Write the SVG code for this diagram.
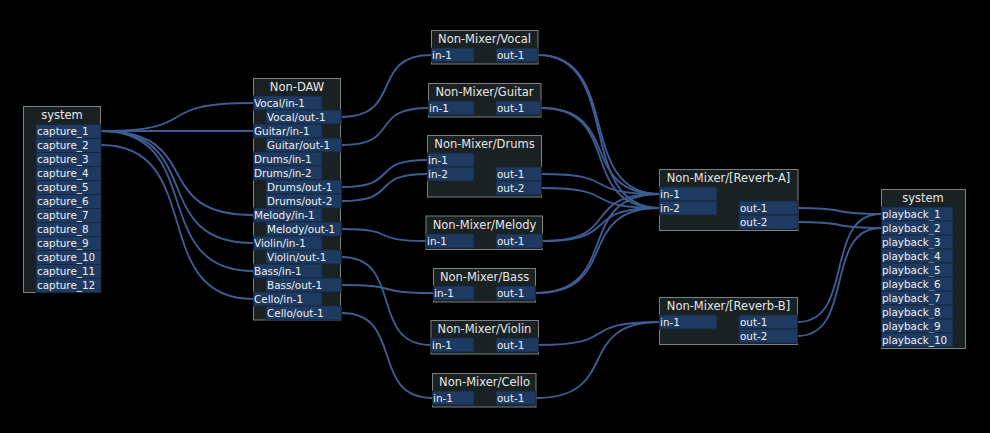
<svg xmlns="http://www.w3.org/2000/svg" width="990" height="433" viewBox="0 0 990 433">
<style>
.box{fill:#1a2123;stroke:#7d8080;stroke-width:1}
.port{fill:#1f3a60;stroke:#15263d;stroke-width:1}
.title{font-family:"DejaVu Sans",sans-serif;font-size:11.5px;fill:#e6e6e6;text-anchor:middle}
.lbl{font-family:"DejaVu Sans",sans-serif;font-size:10.4px;fill:#eef0f2}
.wire{fill:none;stroke:#3d5d92;stroke-width:1.9}
</style>
<rect width="990" height="433" fill="#000"/>
<g id="connectors" class="wires">
<path class="wire" d="M101,131 C207,131 147,103 253,103"/>
<path class="wire" d="M101,131 L253,131"/>
<path class="wire" d="M101,131 C207,131 147,215 253,215"/>
<path class="wire" d="M101,131 C207,131 147,243 253,243"/>
<path class="wire" d="M101,131 C207,131 147,271 253,271"/>
<path class="wire" d="M101,145 C207,145 147,299 253,299"/>
<path class="wire" d="M341.5,117 C404.5,117 368.5,55 431.5,55"/>
<path class="wire" d="M341.5,145 C402.5,145 367.5,108 428.5,108"/>
<path class="wire" d="M341.5,187 C401.5,187 367.5,160 427.5,160"/>
<path class="wire" d="M341.5,201 C401.5,201 367.5,174 427.5,174"/>
<path class="wire" d="M341.5,229 C400.5,229 367,241 426,241"/>
<path class="wire" d="M341.5,257 C404.5,257 368,345 431,345"/>
<path class="wire" d="M341.5,285 C405.5,285 369.5,293 433.5,293"/>
<path class="wire" d="M341.5,313 C405.5,313 368.5,398 432.5,398"/>
<path class="wire" d="M538,55 C623,55 574.5,194 659.5,194"/>
<path class="wire" d="M538,55 C623,55 574.5,208 659.5,208"/>
<path class="wire" d="M541,108 C624,108 576.5,194 659.5,194"/>
<path class="wire" d="M541,108 C624,108 576.5,208 659.5,208"/>
<path class="wire" d="M541.5,174 C624.5,174 576.5,194 659.5,194"/>
<path class="wire" d="M541.5,188 C624.5,188 576.5,208 659.5,208"/>
<path class="wire" d="M542.5,241 C624.5,241 577.5,194 659.5,194"/>
<path class="wire" d="M542.5,241 C624.5,241 577.5,208 659.5,208"/>
<path class="wire" d="M535.5,293 C622.5,293 572.5,194 659.5,194"/>
<path class="wire" d="M535.5,293 C622.5,293 572.5,208 659.5,208"/>
<path class="wire" d="M538.5,345 C623.5,345 574.5,322 659.5,322"/>
<path class="wire" d="M536,398 C622,398 573.5,322 659.5,322"/>
<path class="wire" d="M798,208 C856,208 823,214 881,214"/>
<path class="wire" d="M798,222 C856,222 823,228 881,228"/>
<path class="wire" d="M797.5,322 C855.5,322 823,214 881,214"/>
<path class="wire" d="M797.5,336 C855.5,336 823,228 881,228"/>
</g>
<g id="system-capture">
<rect class="box" x="23.5" y="106.5" width="77" height="186"/>
<text class="title" x="62" y="119">system</text>
<rect class="port" x="36" y="124.5" width="65" height="14"/><text class="lbl" x="37" y="135">capture_1</text>
<rect class="port" x="36" y="138.5" width="65" height="14"/><text class="lbl" x="37" y="149">capture_2</text>
<rect class="port" x="36" y="152.5" width="65" height="14"/><text class="lbl" x="37" y="163">capture_3</text>
<rect class="port" x="36" y="166.5" width="65" height="14"/><text class="lbl" x="37" y="177">capture_4</text>
<rect class="port" x="36" y="180.5" width="65" height="14"/><text class="lbl" x="37" y="191">capture_5</text>
<rect class="port" x="36" y="194.5" width="65" height="14"/><text class="lbl" x="37" y="205">capture_6</text>
<rect class="port" x="36" y="208.5" width="65" height="14"/><text class="lbl" x="37" y="219">capture_7</text>
<rect class="port" x="36" y="222.5" width="65" height="14"/><text class="lbl" x="37" y="233">capture_8</text>
<rect class="port" x="36" y="236.5" width="65" height="14"/><text class="lbl" x="37" y="247">capture_9</text>
<rect class="port" x="36" y="250.5" width="65" height="14"/><text class="lbl" x="37" y="261">capture_10</text>
<rect class="port" x="36" y="264.5" width="65" height="14"/><text class="lbl" x="37" y="275">capture_11</text>
<rect class="port" x="36" y="278.5" width="65" height="14"/><text class="lbl" x="37" y="289">capture_12</text>
</g>
<g id="non-daw">
<rect class="box" x="253.5" y="78.5" width="87" height="241.5"/>
<text class="title" x="297" y="91">Non-DAW</text>
<rect class="port" x="253.5" y="96" width="68.5" height="14"/><text class="lbl" x="254" y="106.5">Vocal/in-1</text>
<rect class="port" x="266" y="110" width="75.5" height="14"/><text class="lbl" x="267" y="120.5">Vocal/out-1</text>
<rect class="port" x="253.5" y="124" width="68.5" height="14"/><text class="lbl" x="254" y="134.5">Guitar/in-1</text>
<rect class="port" x="266" y="138" width="75.5" height="14"/><text class="lbl" x="267" y="148.5">Guitar/out-1</text>
<rect class="port" x="253.5" y="152" width="68.5" height="14"/><text class="lbl" x="254" y="162.5">Drums/in-1</text>
<rect class="port" x="253.5" y="166" width="68.5" height="14"/><text class="lbl" x="254" y="176.5">Drums/in-2</text>
<rect class="port" x="266" y="180" width="75.5" height="14"/><text class="lbl" x="267" y="190.5">Drums/out-1</text>
<rect class="port" x="266" y="194" width="75.5" height="14"/><text class="lbl" x="267" y="204.5">Drums/out-2</text>
<rect class="port" x="253.5" y="208" width="68.5" height="14"/><text class="lbl" x="254" y="218.5">Melody/in-1</text>
<rect class="port" x="266" y="222" width="75.5" height="14"/><text class="lbl" x="267" y="232.5">Melody/out-1</text>
<rect class="port" x="253.5" y="236" width="68.5" height="14"/><text class="lbl" x="254" y="246.5">Violin/in-1</text>
<rect class="port" x="266" y="250" width="75.5" height="14"/><text class="lbl" x="267" y="260.5">Violin/out-1</text>
<rect class="port" x="253.5" y="264" width="68.5" height="14"/><text class="lbl" x="254" y="274.5">Bass/in-1</text>
<rect class="port" x="266" y="278" width="75.5" height="14"/><text class="lbl" x="267" y="288.5">Bass/out-1</text>
<rect class="port" x="253.5" y="292" width="68.5" height="14"/><text class="lbl" x="254" y="302.5">Cello/in-1</text>
<rect class="port" x="266" y="306" width="75.5" height="14"/><text class="lbl" x="267" y="316.5">Cello/out-1</text>
</g>
<g id="mixer-vocal">
<rect class="box" x="431.5" y="30.5" width="106.5" height="33.5"/>
<text class="title" x="484.5" y="43">Non-Mixer/Vocal</text>
<rect class="port" x="431.5" y="48" width="42.5" height="14"/><text class="lbl" x="432" y="58.5">in-1</text>
<rect class="port" x="496" y="48" width="42" height="14"/><text class="lbl" x="497" y="58.5">out-1</text>
</g>
<g id="mixer-guitar">
<rect class="box" x="428.5" y="83.5" width="112.5" height="33.5"/>
<text class="title" x="484.5" y="96">Non-Mixer/Guitar</text>
<rect class="port" x="428.5" y="101" width="45.5" height="14"/><text class="lbl" x="429" y="111.5">in-1</text>
<rect class="port" x="496" y="101" width="45" height="14"/><text class="lbl" x="497" y="111.5">out-1</text>
</g>
<g id="mixer-drums">
<rect class="box" x="427.5" y="135.5" width="114" height="61.5"/>
<text class="title" x="484.5" y="148">Non-Mixer/Drums</text>
<rect class="port" x="427.5" y="153" width="46.5" height="14"/><text class="lbl" x="428" y="163.5">in-1</text>
<rect class="port" x="427.5" y="167" width="46.5" height="14"/><text class="lbl" x="428" y="177.5">in-2</text>
<rect class="port" x="496" y="167" width="45.5" height="14"/><text class="lbl" x="497" y="177.5">out-1</text>
<rect class="port" x="496" y="181" width="45.5" height="14"/><text class="lbl" x="497" y="191.5">out-2</text>
</g>
<g id="mixer-melody">
<rect class="box" x="426" y="216" width="116.5" height="33.5"/>
<text class="title" x="484.5" y="229">Non-Mixer/Melody</text>
<rect class="port" x="426" y="234" width="48" height="14"/><text class="lbl" x="427" y="244.5">in-1</text>
<rect class="port" x="496" y="234" width="46.5" height="14"/><text class="lbl" x="497" y="244.5">out-1</text>
</g>
<g id="mixer-bass">
<rect class="box" x="433.5" y="268.5" width="102" height="33.5"/>
<text class="title" x="484.5" y="281">Non-Mixer/Bass</text>
<rect class="port" x="433.5" y="286" width="40.5" height="14"/><text class="lbl" x="434" y="296.5">in-1</text>
<rect class="port" x="496" y="286" width="39.5" height="14"/><text class="lbl" x="497" y="296.5">out-1</text>
</g>
<g id="mixer-violin">
<rect class="box" x="431" y="320.5" width="107.5" height="33.5"/>
<text class="title" x="484.5" y="333">Non-Mixer/Violin</text>
<rect class="port" x="431" y="338" width="43" height="14"/><text class="lbl" x="432" y="348.5">in-1</text>
<rect class="port" x="496" y="338" width="42.5" height="14"/><text class="lbl" x="497" y="348.5">out-1</text>
</g>
<g id="mixer-cello">
<rect class="box" x="432.5" y="373.5" width="103.5" height="33.5"/>
<text class="title" x="484.5" y="386">Non-Mixer/Cello</text>
<rect class="port" x="432.5" y="391" width="41.5" height="14"/><text class="lbl" x="433" y="401.5">in-1</text>
<rect class="port" x="496" y="391" width="40" height="14"/><text class="lbl" x="497" y="401.5">out-1</text>
</g>
<g id="reverb-a">
<rect class="box" x="659.5" y="169.5" width="138.5" height="61"/>
<text class="title" x="728.5" y="182">Non-Mixer/[Reverb-A]</text>
<rect class="port" x="659.5" y="187" width="57.5" height="14"/><text class="lbl" x="660" y="197.5">in-1</text>
<rect class="port" x="659.5" y="201" width="57.5" height="14"/><text class="lbl" x="660" y="211.5">in-2</text>
<rect class="port" x="739" y="201" width="59" height="14"/><text class="lbl" x="740" y="211.5">out-1</text>
<rect class="port" x="739" y="215" width="59" height="14"/><text class="lbl" x="740" y="225.5">out-2</text>
</g>
<g id="reverb-b">
<rect class="box" x="659.5" y="297.5" width="138" height="47"/>
<text class="title" x="728.5" y="310">Non-Mixer/[Reverb-B]</text>
<rect class="port" x="659.5" y="315" width="57.5" height="14"/><text class="lbl" x="660" y="325.5">in-1</text>
<rect class="port" x="739" y="315" width="58.5" height="14"/><text class="lbl" x="740" y="325.5">out-1</text>
<rect class="port" x="739" y="329" width="58.5" height="14"/><text class="lbl" x="740" y="339.5">out-2</text>
</g>
<g id="system-playback">
<rect class="box" x="881.5" y="189.5" width="84" height="159"/>
<text class="title" x="923" y="202">system</text>
<rect class="port" x="881.5" y="207" width="71.5" height="14"/><text class="lbl" x="882" y="217.5">playback_1</text>
<rect class="port" x="881.5" y="221" width="71.5" height="14"/><text class="lbl" x="882" y="231.5">playback_2</text>
<rect class="port" x="881.5" y="235" width="71.5" height="14"/><text class="lbl" x="882" y="245.5">playback_3</text>
<rect class="port" x="881.5" y="249" width="71.5" height="14"/><text class="lbl" x="882" y="259.5">playback_4</text>
<rect class="port" x="881.5" y="263" width="71.5" height="14"/><text class="lbl" x="882" y="273.5">playback_5</text>
<rect class="port" x="881.5" y="277" width="71.5" height="14"/><text class="lbl" x="882" y="287.5">playback_6</text>
<rect class="port" x="881.5" y="291" width="71.5" height="14"/><text class="lbl" x="882" y="301.5">playback_7</text>
<rect class="port" x="881.5" y="305" width="71.5" height="14"/><text class="lbl" x="882" y="315.5">playback_8</text>
<rect class="port" x="881.5" y="319" width="71.5" height="14"/><text class="lbl" x="882" y="329.5">playback_9</text>
<rect class="port" x="881.5" y="333" width="71.5" height="14"/><text class="lbl" x="882" y="343.5">playback_10</text>
</g>
</svg>
